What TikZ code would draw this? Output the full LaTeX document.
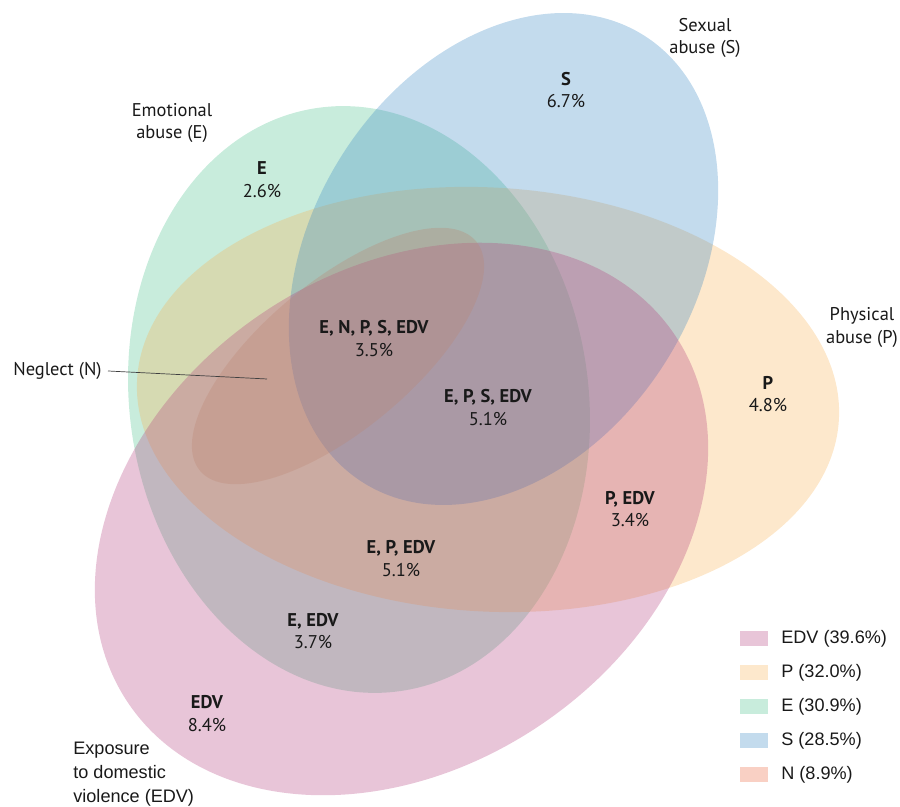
\documentclass[tikz,border=0pt]{standalone}
\usepackage{fontspec}
\setmainfont{PT Sans}
\newfontfamily\arialfont{Liberation Sans}
\definecolor{colE}{RGB}{72,192,138}
\definecolor{colP}{RGB}{248,178,85}
\definecolor{colS}{RGB}{55,135,195}
\definecolor{colEDV}{RGB}{178,62,125}
\definecolor{colN}{RGB}{188,133,113}
\definecolor{legN}{RGB}{249,208,196}
\begin{document}
\begin{tikzpicture}[
		area/.style={fill=#1, fill opacity=0.3},
		lbl/.style={align=center, text=black!90, font=\fontsize{10.5}{13}\selectfont},
		key/.style={anchor=west, inner sep=0pt, text=black!90, font=\arialfont\fontsize{10.3}{13}\selectfont}
	]
		\useasboundingbox (0, 0) rectangle (18, 16.14);
		\fill[area=colE, rotate around={98:(7.18, 8.15)}] (7.18, 8.15) ellipse [x radius=5.89, y radius=4.59];
		\fill[area=colP, rotate around={-3.3:(9.76, 8.15)}] (9.76, 8.15) ellipse [x radius=7.03, y radius=4.24];
		\fill[area=colS, rotate around={58:(10.07, 10.96)}] (10.07, 10.96) ellipse [x radius=5.28, y radius=3.84];
		\fill[area=colEDV, rotate around={33.9:(8.03, 5.76)}] (8.03, 5.76) ellipse [x radius=6.59, y radius=4.97];
		\fill[area=colN, rotate around={39.7:(6.76, 9.02)}] (6.76, 9.02) ellipse [x radius=3.59, y radius=1.49];
		\node[lbl] (lS) at (11.32, 14.34) {\textbf{S}\\6.7\%};
		\node[lbl] (lE) at (5.24, 12.54) {\textbf{E}\\2.6\%};
		\node[lbl] (lP) at (15.36, 8.26) {\textbf{P}\\4.8\%};
		\node[lbl] (lPEDV) at (12.60, 5.96) {\textbf{P, EDV}\\3.4\%};
		\node[lbl] (lENPSEDV) at (7.48, 9.37) {\textbf{E, N, P, S, EDV}\\3.5\%};
		\node[lbl] (lEPSEDV) at (9.76, 7.99) {\textbf{E, P, S, EDV}\\5.1\%};
		\node[lbl] (lEPEDV) at (8.02, 4.97) {\textbf{E, P, EDV}\\5.1\%};
		\node[lbl] (lEEDV) at (6.26, 3.52) {\textbf{E, EDV}\\3.7\%};
		\node[lbl] (lEDV) at (4.14, 1.87) {\textbf{EDV}\\8.4\%};
		\node[lbl] (tS) at (14.10, 15.38) {Sexual\\abuse (S)};
		\node[lbl] (tE) at (3.44, 13.68) {Emotional\\abuse (E)};
		\node[lbl] (tP) at (17.24, 9.59) {Physical\\abuse (P)};
		\node[key, align=left, font=\arialfont\fontsize{10.3}{13.6}\selectfont] (tEDV) at (1.46, 0.66) {Exposure\\to domestic\\violence (EDV)};
		\node[lbl, anchor=east, inner sep=0pt] (tN) at (2.04, 8.72) {Neglect (N)};
		\coordinate (nN) at (5.34, 8.56);
		\draw[black!75, thin] ([xshift=0.12cm]tN.east) -- (nN);
		% legend
		\foreach \c/\t [count=\i] in {colEDV!30/EDV (39.6\%), colP!30/P (32.0\%), colE!30/E (30.9\%), colS!30/S (28.5\%), legN/N (8.9\%)} {
			\fill[fill=\c] (14.80, 4.04-0.68*\i-0.15) rectangle (15.36, 4.04-0.68*\i+0.15);
			\node[key] (k\i) at (15.62, 4.04-0.68*\i) {\t};
		}
	\end{tikzpicture}
\end{document}
